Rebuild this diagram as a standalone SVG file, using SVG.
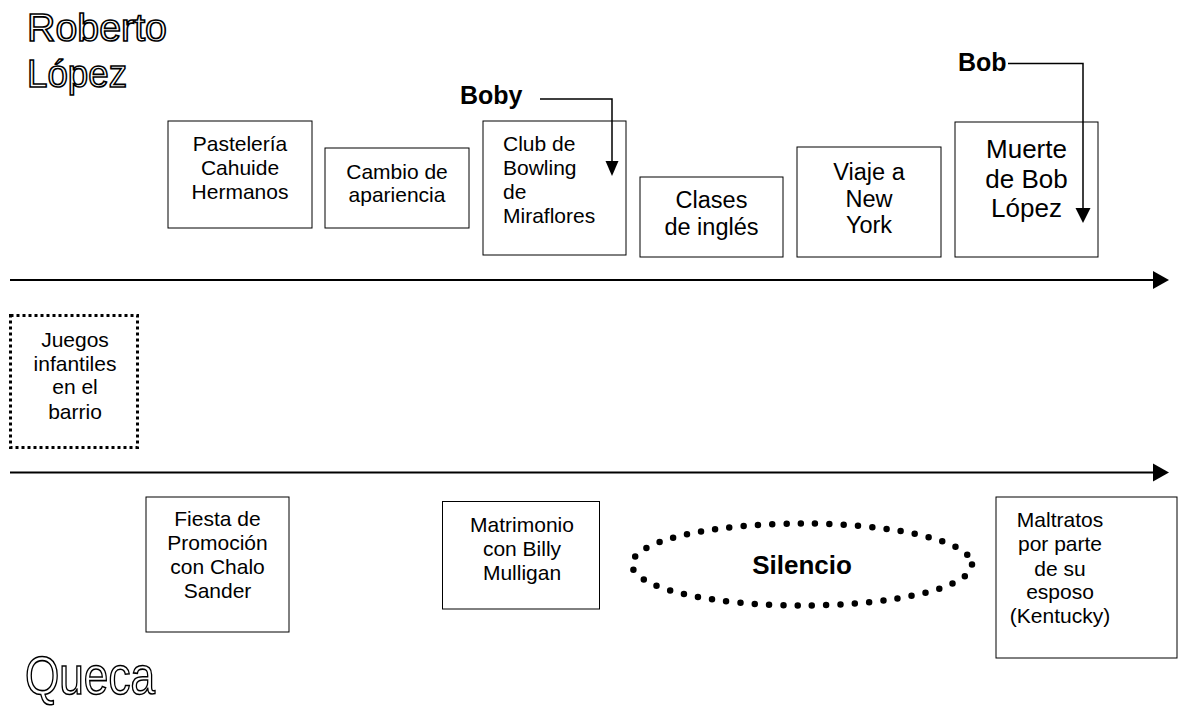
<svg xmlns="http://www.w3.org/2000/svg" width="1178" height="707" viewBox="0 0 1178 707">
<style>
text{font-family:"Liberation Sans",Arial,sans-serif;fill:#000}
.box{fill:#fff;stroke:#000;stroke-width:1}
.t21{font-size:21px;text-anchor:middle}
.t21l{font-size:21px}
.t24{font-size:23.5px;text-anchor:middle}
.t26{font-size:26px;text-anchor:middle}
.bold{font-weight:bold;font-size:25px}
.outline{fill:#fff;stroke:#000;stroke-width:1.6}
.conn{fill:none;stroke:#000;stroke-width:1.5}
.axis{fill:none;stroke:#000;stroke-width:2}
</style>
<rect width="1178" height="707" fill="#fff"/>

<g id="title-roberto">
<text class="outline" x="27" y="41" font-size="38" textLength="140" lengthAdjust="spacingAndGlyphs">Roberto</text>
<text class="outline" x="27" y="87" font-size="38" textLength="100" lengthAdjust="spacingAndGlyphs">López</text>
</g>

<g id="label-boby"><text class="bold" x="460" y="104">Boby</text></g>
<g id="label-bob"><text class="bold" x="958" y="71">Bob</text></g>

<g id="n-pasteleria">
<rect class="box" x="168" y="121" width="144" height="107"/>
<text class="t21" x="240" y="151">Pastelería</text>
<text class="t21" x="240" y="175">Cahuide</text>
<text class="t21" x="240" y="199">Hermanos</text>
</g>

<g id="n-cambio">
<rect class="box" x="325" y="148" width="144" height="80"/>
<text class="t21" x="397" y="179">Cambio de</text>
<text class="t21" x="397" y="202">apariencia</text>
</g>

<g id="n-club">
<rect class="box" x="483" y="121" width="143" height="134"/>
<text class="t21l" x="503" y="151">Club de</text>
<text class="t21l" x="503" y="175">Bowling</text>
<text class="t21l" x="503" y="199">de</text>
<text class="t21l" x="503" y="223">Miraflores</text>
</g>

<g id="n-clases">
<rect class="box" x="640" y="177" width="143" height="80"/>
<text class="t24" x="711.5" y="208">Clases</text>
<text class="t24" x="711.5" y="235">de inglés</text>
</g>

<g id="n-viaje">
<rect class="box" x="797" y="147" width="144" height="110"/>
<text class="t24" x="869" y="180">Viaje a</text>
<text class="t24" x="869" y="207">New</text>
<text class="t24" x="869" y="233">York</text>
</g>

<g id="n-muerte">
<rect class="box" x="955" y="122" width="143" height="135"/>
<text class="t26" x="1026.5" y="158">Muerte</text>
<text class="t26" x="1026.5" y="188">de Bob</text>
<text class="t26" x="1026.5" y="217">López</text>
</g>

<g id="n-juegos">
<rect x="10.5" y="315.5" width="127" height="132" fill="#fff" stroke="#000" stroke-width="3" stroke-dasharray="3 3"/>
<text class="t21" x="75" y="347">Juegos</text>
<text class="t21" x="75" y="371">infantiles</text>
<text class="t21" x="75" y="394">en el</text>
<text class="t21" x="75" y="419">barrio</text>
</g>

<g id="n-fiesta">
<rect class="box" x="146" y="497" width="143" height="135"/>
<text class="t21" x="217.5" y="526">Fiesta de</text>
<text class="t21" x="217.5" y="550">Promoción</text>
<text class="t21" x="217.5" y="574">con Chalo</text>
<text class="t21" x="217.5" y="598">Sander</text>
</g>

<g id="n-matrimonio">
<rect class="box" x="442.5" y="501.5" width="157" height="107.5"/>
<text class="t21" x="522" y="532">Matrimonio</text>
<text class="t21" x="522" y="556">con Billy</text>
<text class="t21" x="522" y="580">Mulligan</text>
</g>

<g id="n-silencio">
<ellipse cx="802" cy="564.5" rx="170" ry="41" fill="none" stroke="#000" stroke-width="6.5" stroke-linecap="round" stroke-dasharray="0 14.3"/>
<text x="802" y="574" font-size="26" font-weight="bold" text-anchor="middle">Silencio</text>
</g>

<g id="n-maltratos">
<rect class="box" x="996" y="497" width="181" height="161"/>
<text class="t21" x="1060" y="527">Maltratos</text>
<text class="t21" x="1060" y="551">por parte</text>
<text class="t21" x="1060" y="576">de su</text>
<text class="t21" x="1060" y="599">esposo</text>
<text class="t21" x="1060" y="623">(Kentucky)</text>
</g>

<g id="title-queca">
<text class="outline" x="25" y="694" font-size="54" textLength="130" lengthAdjust="spacingAndGlyphs">Queca</text>
</g>

<g id="connectors">
<line class="axis" x1="10" y1="280" x2="1154" y2="280"/>
<path d="M1153,271 L1169,280 L1153,289 Z" fill="#000"/>
<line class="axis" x1="10" y1="472.5" x2="1154" y2="472.5"/>
<path d="M1153,463.5 L1169,472.5 L1153,481.5 Z" fill="#000"/>
<path class="conn" d="M540,99 H612 V162"/>
<path d="M605.5,161 L618.5,161 L612,176 Z" fill="#000"/>
<path class="conn" d="M1008,63.5 H1083 V209"/>
<path d="M1075.5,208 L1090.5,208 L1083,223 Z" fill="#000"/>
</g>
</svg>
